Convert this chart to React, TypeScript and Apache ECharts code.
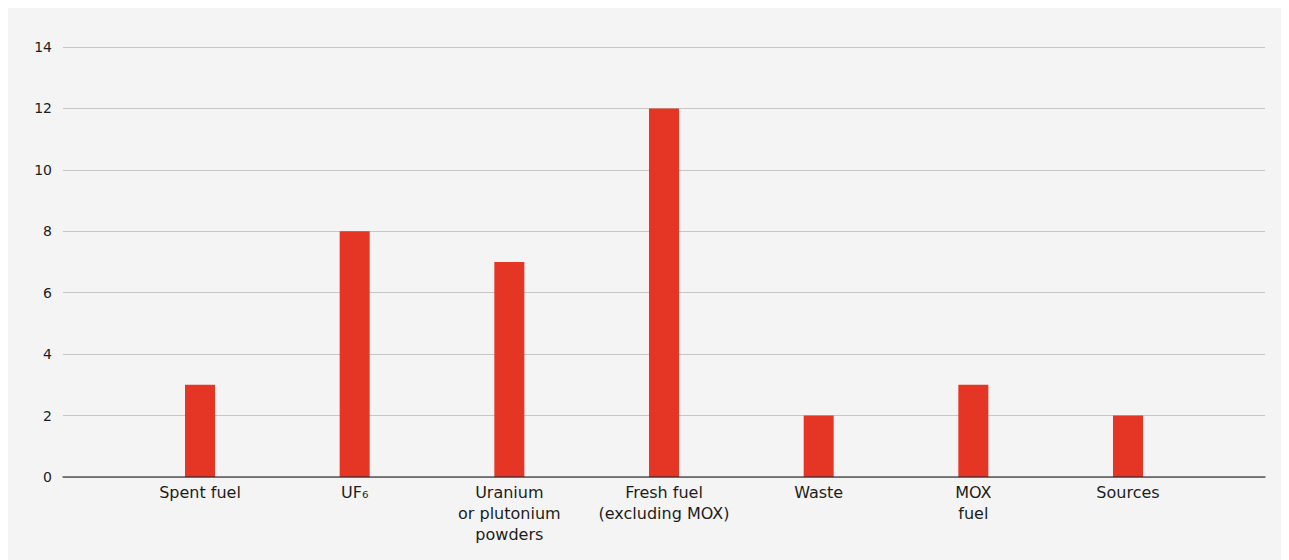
import React, { useEffect, useRef } from "react";
import * as echarts from "echarts";

const categories = [
  "Spent fuel",
  "UF₆",
  "Uranium\nor plutonium\npowders",
  "Fresh fuel\n(excluding MOX)",
  "Waste",
  "MOX\nfuel",
  "Sources",
];
const values = [3, 8, 7, 12, 2, 3, 2];
const yMin = 0;
const yMax = 14;
const yStep = 2;

const FONT = "'DejaVu Sans', 'Noto Sans', sans-serif";
const TEXT = "#1d1d1b";
const EXTRA = 19;

export default function App() {
  const ref = useRef<HTMLDivElement>(null);
  useEffect(() => {
    document.documentElement.style.overflow = "hidden";
    document.body.style.overflow = "hidden";
    if (!ref.current) return;
    const chart = echarts.init(ref.current, undefined, { renderer: "svg" });
    chart.setOption({
      animation: false,
      grid: [
        { left: 55, right: 24 + EXTRA, top: 39, bottom: 83 },
        { left: 114.67, right: 83.67 + EXTRA, top: 39, bottom: 83 },
      ],
      xAxis: [
        {
          gridIndex: 0,
          type: "value",
          min: 0,
          max: 1,
          z: 5,
          axisLine: { show: true, lineStyle: { color: "rgba(40,40,40,0.75)", width: 1.5 } },
          axisTick: { show: false },
          axisLabel: { show: false },
          splitLine: { show: false },
        },
        {
          gridIndex: 1,
          type: "category",
          data: categories,
          axisLine: { show: false },
          axisTick: { show: false },
          axisLabel: {
            interval: 0,
            margin: 5,
            color: TEXT,
            fontFamily: FONT,
            fontSize: 16,
            lineHeight: 21,
          },
        },
      ],
      yAxis: [
        {
          gridIndex: 0,
          type: "value",
          min: yMin,
          max: yMax,
          interval: yStep,
          axisLine: { show: false },
          axisTick: { show: false },
          axisLabel: { color: TEXT, fontFamily: FONT, fontSize: 14, margin: 11 },
          splitLine: { show: true, lineStyle: { color: "#c6c6c6", width: 1 } },
        },
        {
          gridIndex: 1,
          type: "value",
          min: yMin,
          max: yMax,
          interval: yStep,
          show: false,
          splitLine: { show: false },
        },
      ],
      series: [
        {
          type: "bar",
          xAxisIndex: 1,
          yAxisIndex: 1,
          data: values,
          barWidth: 30,
          itemStyle: { color: "#e53524" },
        },
      ],
    });
    return () => chart.dispose();
  }, []);
  return (
    <div
      ref={ref}
      style={{ width: 1281 + EXTRA, height: 552, background: "#f4f4f4" }}
    />
  );
}
